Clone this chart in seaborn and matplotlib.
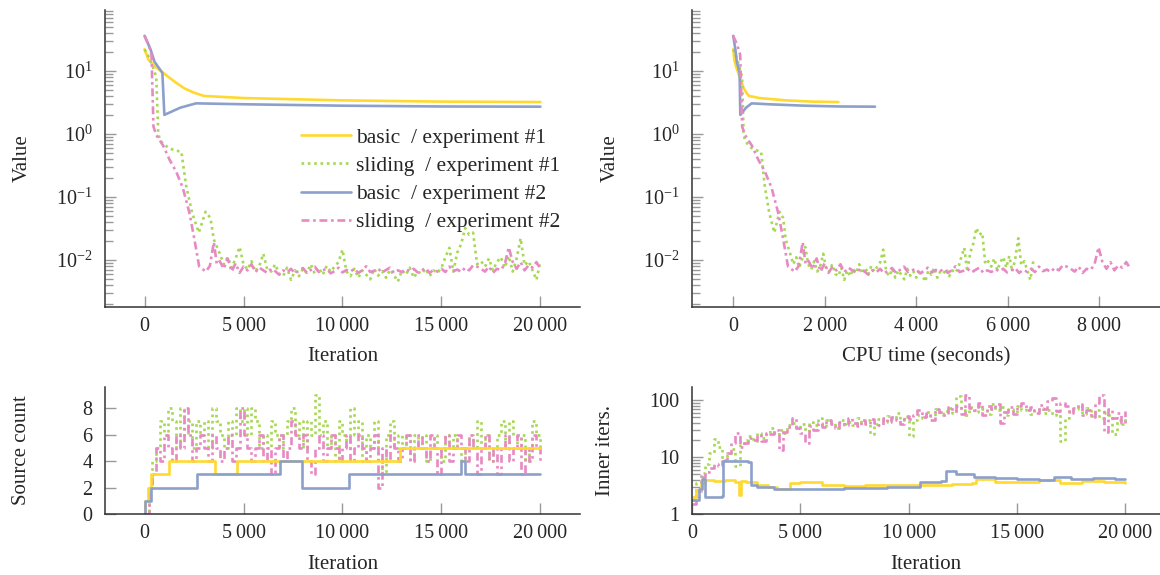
import numpy as np
import matplotlib
matplotlib.use('Agg')
import matplotlib.pyplot as plt
import matplotlib.ticker as mticker
import seaborn as sns

# ---------------- objective value (top row) ----------------
basic1_it = [0, 200, 500, 1000, 1500, 2000, 2500, 3000, 5000, 10000, 15000, 20000]
basic1_val = [22, 15, 12, 9, 6.8, 5.3, 4.5, 4.0, 3.7, 3.4, 3.25, 3.2]

basic2_it = [0, 300, 500, 900, 1000, 1800, 2600, 5000, 10000, 15000, 20000]
basic2_val = [36, 22, 14, 9.3, 2.0, 2.6, 3.05, 2.95, 2.8, 2.72, 2.7]

sliding1_head_it = [0, 200, 400, 590, 690, 770, 940, 1200, 1500, 1860, 2100, 2400, 2740, 3080, 3330, 3500]
sliding1_head_val = [22, 17, 12, 8, 1.05, 0.8, 0.7, 0.6, 0.55, 0.52, 0.15, 0.056, 0.027, 0.058, 0.046, 0.021]

sliding2_head_it = [0, 200, 350, 450, 600, 940, 1260, 1600, 1930, 2270, 2520, 2760, 3100, 3300, 3500, 3650]
sliding2_head_val = [36, 26, 18, 1.3, 0.95, 0.65, 0.39, 0.25, 0.14, 0.055, 0.021, 0.0078, 0.0065, 0.008, 0.019, 0.0085]

# tail samples every 200 iterations from 3800 to 20000
tail_it = np.arange(3800, 20001, 200)
sliding1_tail = [0.0125, 0.0085, 0.011, 0.0075, 0.0105, 0.016, 0.0085, 0.007, 0.0095, 0.0065,
                 0.008, 0.0125, 0.007, 0.0065, 0.0085, 0.006, 0.0055, 0.0075, 0.0048, 0.0068,
                 0.0055, 0.0072, 0.0062, 0.0085, 0.006, 0.0075, 0.0058, 0.008, 0.0065, 0.0078,
                 0.0092, 0.0145, 0.0065, 0.0055, 0.0072, 0.0052, 0.0068, 0.0058, 0.0049, 0.0072,
                 0.0056, 0.0066, 0.0052, 0.007, 0.0057, 0.0045, 0.0068, 0.0058, 0.0075, 0.0052,
                 0.0065, 0.006, 0.0072, 0.0055, 0.0068, 0.0062, 0.0075, 0.011, 0.0155, 0.0065,
                 0.013, 0.018, 0.032, 0.025, 0.027, 0.0085, 0.0095, 0.0078, 0.0105, 0.0068,
                 0.0092, 0.011, 0.0075, 0.0115, 0.0065, 0.0105, 0.022, 0.0082, 0.0095, 0.0068,
                 0.0048, 0.0095]
sliding2_tail = [0.0095, 0.0072, 0.0105, 0.0065, 0.0088, 0.0062, 0.0078, 0.0068, 0.0085, 0.0064,
                 0.0075, 0.0068, 0.0062, 0.0072, 0.0066, 0.0058, 0.0068, 0.0063, 0.0072, 0.0061,
                 0.0067, 0.0074, 0.0062, 0.0069, 0.0078, 0.0064, 0.0068, 0.0072, 0.0061, 0.0066,
                 0.0075, 0.0063, 0.0069, 0.0065, 0.0072, 0.0062, 0.0068, 0.0079, 0.0064, 0.0067,
                 0.0072, 0.0063, 0.0069, 0.0075, 0.0062, 0.0068, 0.0064, 0.0071, 0.0066, 0.0072,
                 0.0063, 0.0068, 0.0074, 0.0062, 0.0069, 0.0065, 0.0072, 0.0064, 0.0078, 0.0066,
                 0.007, 0.0064, 0.0075, 0.0068, 0.0082, 0.0078, 0.0072, 0.0065, 0.0078, 0.0062,
                 0.0072, 0.0069, 0.0085, 0.0158, 0.0092, 0.0072, 0.0092, 0.0068, 0.0082, 0.0075,
                 0.0092, 0.0072]

# total CPU time (seconds) of each run after 20 000 iterations
cpu_total = {'basic1': 2300, 'sliding1': 6560, 'basic2': 3100, 'sliding2': 8680}

# ---------------- source count (bottom left) ----------------
src_basic1_it = [0, 40, 170, 330, 1250, 3580, 4670, 12900, 20000]
src_basic1 = [0, 1, 2, 3, 4, 3, 4, 5, 5]
src_basic2_it = [0, 40, 330, 2630, 6830, 7950, 10330, 16000, 16170, 20000]
src_basic2 = [0, 1, 2, 3, 4, 2, 3, 4, 3, 3]
grid_it = np.arange(0, 20001, 200)
src_sliding1 = [0, 2, 4, 5, 7, 6, 8, 7, 5, 8,
                6, 7, 5, 7, 6, 7, 5, 8, 7, 6,
                5, 7, 6, 8, 7, 8, 6, 8, 7, 5,
                6, 5, 7, 6, 5, 6, 7, 8, 6, 7,
                5, 7, 6, 9, 6, 7, 5, 6, 4, 7,
                6, 5, 8, 6, 7, 4, 6, 5, 7, 4,
                3, 6, 7, 5, 6, 5, 6, 4, 6, 5,
                6, 4, 5, 6, 5, 4, 6, 5, 6, 5,
                4, 5, 6, 5, 7, 5, 6, 4, 5, 6,
                7, 5, 7, 6, 5, 6, 4, 5, 7, 6,
                5]
src_sliding2 = [0, 2, 3, 5, 4, 6, 5, 4, 6, 5,
                8, 6, 4, 5, 6, 5, 4, 6, 5, 4,
                5, 6, 4, 5, 8, 6, 5, 4, 5, 6,
                4, 5, 3, 5, 6, 4, 5, 7, 6, 5,
                6, 4, 3, 5, 6, 4, 5, 6, 5, 4,
                5, 6, 4, 5, 6, 5, 4, 5, 6, 2,
                5, 4, 6, 5, 4, 5, 6, 4, 5, 6,
                5, 4, 6, 5, 3, 5, 6, 4, 5, 6,
                5, 4, 6, 5, 3, 5, 6, 4, 5, 3,
                5, 6, 4, 5, 6, 3, 5, 4, 6, 5,
                4]

# ---------------- inner iterations (bottom right) ----------------
inn_basic1_it = [0, 200, 400, 600, 1000, 1500, 2000, 2150, 2250, 2500, 3000, 3500, 3900, 4500, 5000,
                 6000, 7000, 8000, 9000, 10000, 11000, 12000, 12900, 13100, 14000, 15000, 16000,
                 17000, 18000, 19000, 20000]
inn_basic1 = [2.0, 2.6, 3.5, 3.9, 3.8, 3.9, 3.7, 2.2, 3.8, 3.6, 3.2, 3.0, 2.7, 3.5, 3.6,
              3.3, 3.1, 3.2, 3.3, 3.3, 3.3, 3.4, 3.5, 4.2, 3.7, 3.6, 3.9, 3.5, 3.8, 3.6, 3.5]
inn_basic2_it = [0, 300, 470, 600, 1400, 1450, 2600, 2700, 3000, 3800, 5000, 7000, 9000, 10400,
                 10500, 11500, 11700, 12200, 13000, 14000, 15000, 16000, 16700, 17500, 18500,
                 19500, 20000]
inn_basic2 = [1.8, 2.8, 4.2, 2.0, 2.1, 8.5, 8.3, 3.2, 3.0, 2.7, 2.75, 2.85, 2.95, 3.0,
              3.7, 3.8, 5.8, 5.0, 4.5, 4.3, 4.1, 4.0, 4.4, 4.1, 4.3, 4.2, 4.1]
inn_sliding1 = [1.8, 3.5, 5.2, 7.5, 12, 21, 15, 9, 11, 14,
                7, 16, 20, 23, 19, 26, 22, 28, 32, 25,
                30, 27, 36, 40, 33, 38, 29, 42, 36, 48,
                35, 44, 39, 33, 45, 38, 42, 36, 48, 40,
                44, 25, 38, 46, 42, 52, 47, 60, 44, 50,
                23, 45, 55, 48, 62, 52, 70, 58, 65, 72,
                60, 117, 68, 55, 75, 62, 80, 70, 58, 84,
                66, 75, 55, 70, 62, 78, 68, 72, 56, 66,
                74, 60, 68, 55, 64, 19, 48, 62, 70, 78,
                58, 72, 52, 66, 48, 60, 55, 25, 45, 38,
                52]
inn_sliding2 = [1.5, 2.5, 4.5, 5.5, 6.5, 7.5, 7, 8.5, 12, 18,
                26, 15, 18, 22, 20, 24, 19, 27, 25, 30,
                13.5, 28, 34, 49, 32, 26, 18, 35, 30, 40,
                34, 45, 38, 32, 42, 36, 48, 40, 35, 44,
                38, 46, 40, 36, 48, 42, 50, 45, 38, 52,
                46, 55, 68, 50, 60, 45, 70, 62, 55, 75,
                65, 80, 58, 125, 72, 66, 90, 55, 78, 70,
                85, 40, 62, 75, 58, 80, 90, 68, 75, 60,
                82, 70, 95, 110, 65, 88, 78, 60, 72, 85,
                55, 68, 50, 90, 125, 28, 70, 48, 60, 40,
                64]

labels = {'basic1': 'basic  / experiment #1', 'sliding1': 'sliding  / experiment #1',
          'basic2': 'basic  / experiment #2', 'sliding2': 'sliding  / experiment #2'}

sns.set_theme(style="white")
plt.rcParams['font.family'] = ['Liberation Serif', 'DejaVu Serif']
plt.rcParams['mathtext.fontset'] = 'custom'
plt.rcParams['mathtext.rm'] = 'Liberation Serif'
plt.rcParams['font.size'] = 14.5

pal = sns.color_palette('Set2')
colors = {'basic1': pal[5], 'sliding1': pal[4], 'basic2': pal[2], 'sliding2': pal[3]}
styles = {'basic1': '-', 'sliding1': (0, (1, 1.4)), 'basic2': '-', 'sliding2': (0, (3, 1.4, 1, 1.4))}
lw = 1.9

value_runs = {
    'basic1': (np.array(basic1_it), basic1_val),
    'sliding1': (np.concatenate([sliding1_head_it, tail_it]), sliding1_head_val + sliding1_tail),
    'basic2': (np.array(basic2_it), basic2_val),
    'sliding2': (np.concatenate([sliding2_head_it, tail_it]), sliding2_head_val + sliding2_tail),
}

fig = plt.figure(figsize=(11.6, 5.75), dpi=100)
ax_tl = fig.add_axes([0.0905, 0.466, 0.4095, 0.517])
ax_tr = fig.add_axes([0.5966, 0.466, 0.4034, 0.517])
ax_bl = fig.add_axes([0.0905, 0.106, 0.4095, 0.221])
ax_br = fig.add_axes([0.5966, 0.106, 0.4034, 0.221])

for key, (it, val) in value_runs.items():
    sns.lineplot(x=it, y=val, ax=ax_tl, color=colors[key], linestyle=styles[key], lw=lw,
                 estimator=None, sort=False, label=labels[key])
    cpu = it / 20000 * cpu_total[key]
    sns.lineplot(x=cpu, y=val, ax=ax_tr, color=colors[key], linestyle=styles[key], lw=lw,
                 estimator=None, sort=False)

src_runs = {
    'basic1': (src_basic1_it, src_basic1),
    'sliding1': (grid_it, src_sliding1),
    'basic2': (src_basic2_it, src_basic2),
    'sliding2': (grid_it, src_sliding2),
}
for key in ['sliding1', 'sliding2', 'basic1', 'basic2']:
    it, val = src_runs[key]
    sns.lineplot(x=it, y=val, ax=ax_bl, color=colors[key], linestyle=styles[key], lw=lw,
                 estimator=None, sort=False, drawstyle='steps-post')

inner_runs = {
    'basic1': (inn_basic1_it, inn_basic1),
    'sliding1': (grid_it, inn_sliding1),
    'basic2': (inn_basic2_it, inn_basic2),
    'sliding2': (grid_it, inn_sliding2),
}
for key in ['sliding1', 'sliding2', 'basic1', 'basic2']:
    it, val = inner_runs[key]
    sns.lineplot(x=it, y=val, ax=ax_br, color=colors[key], linestyle=styles[key], lw=lw,
                 estimator=None, sort=False, drawstyle='steps-post')

thousands = mticker.FuncFormatter(lambda v, p: f'{int(round(v)):,}'.replace(',', '\u2009'))

for ax in [ax_tl, ax_tr, ax_bl, ax_br]:
    sns.despine(ax=ax)
    for s in ['left', 'bottom']:
        ax.spines[s].set_color('#333333')
        ax.spines[s].set_linewidth(1.1)
    ax.tick_params(which='both', direction='in', color='0.6', width=1.0, labelsize=14.5,
                   bottom=True, left=True)
    ax.tick_params(which='major', length=8)
    ax.tick_params(which='minor', length=6)
    ax.tick_params(axis='y', pad=9)
    ax.tick_params(axis='x', pad=7)
    ax.xaxis.set_major_formatter(thousands)

for ax in [ax_tl, ax_tr]:
    ax.set_yscale('log')
    ax.set_ylim(10 ** -2.75, 10 ** 1.97)
    ax.yaxis.set_major_locator(mticker.LogLocator(base=10, numticks=10))
    ax.yaxis.set_minor_locator(mticker.LogLocator(base=10, subs=np.arange(2, 10), numticks=20))
    ax.yaxis.set_minor_formatter(mticker.NullFormatter())
    ax.set_ylabel('Value', fontsize=15)
    ax.yaxis.set_label_coords(-0.155, 0.5)

ax_tl.set_xlim(-2000, 22000)
ax_tl.xaxis.set_major_locator(mticker.MultipleLocator(5000))
ax_tl.set_xlabel('Iteration', fontsize=15)
ax_tl.xaxis.set_label_coords(0.5, -0.135)

ax_tr.set_xlim(-900, 9330)
ax_tr.xaxis.set_major_locator(mticker.MultipleLocator(2000))
ax_tr.set_xlabel('CPU time (seconds)', fontsize=15)
ax_tr.xaxis.set_label_coords(0.5, -0.135)

ax_bl.set_xlim(-2000, 22000)
ax_bl.set_ylim(0, 9.6)
ax_bl.xaxis.set_major_locator(mticker.MultipleLocator(5000))
ax_bl.yaxis.set_major_locator(mticker.MultipleLocator(2))
ax_bl.set_xlabel('Iteration', fontsize=15)
ax_bl.set_ylabel('Source count', fontsize=15)
ax_bl.xaxis.set_label_coords(0.5, -0.32)
ax_bl.yaxis.set_label_coords(-0.155, 0.5)

ax_br.set_yscale('log')
ax_br.set_xlim(0, 21600)
ax_br.set_ylim(1, 170)
ax_br.xaxis.set_major_locator(mticker.MultipleLocator(5000))
ax_br.yaxis.set_major_locator(mticker.FixedLocator([1, 10, 100]))
ax_br.yaxis.set_major_formatter(mticker.FuncFormatter(lambda v, p: f'{v:g}'))
ax_br.yaxis.set_minor_locator(mticker.LogLocator(base=10, subs=np.arange(2, 10), numticks=20))
ax_br.yaxis.set_minor_formatter(mticker.NullFormatter())
ax_br.set_xlabel('Iteration', fontsize=15)
ax_br.set_ylabel('Inner iters.', fontsize=15)
ax_br.xaxis.set_label_coords(0.5, -0.32)
ax_br.yaxis.set_label_coords(-0.165, 0.5)

ax_tl.legend(loc='upper left', bbox_to_anchor=(0.39, 0.64), frameon=False, fontsize=15.5,
             handlelength=2.3, handletextpad=0.25, labelspacing=0.38, borderpad=0)

fig.savefig('out.png', dpi=100)
